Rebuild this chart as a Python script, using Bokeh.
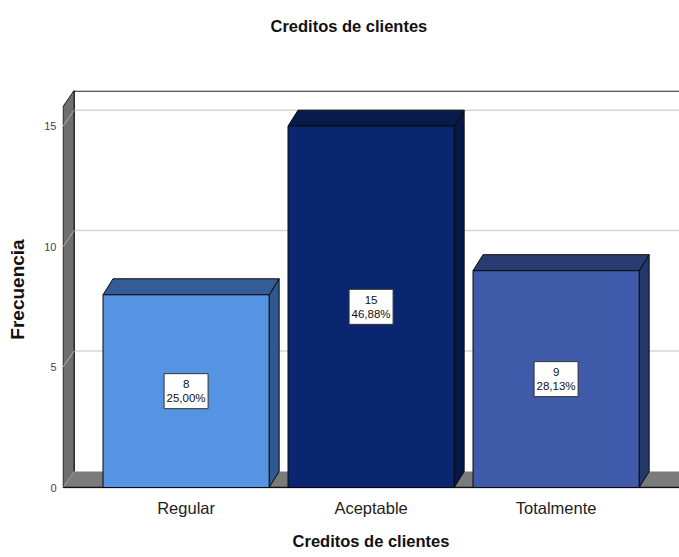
from bokeh.plotting import figure
from bokeh.models import FixedTicker, Range1d, Title
from bokeh.embed import file_html
from bokeh.resources import INLINE
from bokeh.core.properties import value

# ---- data ----
categories = ["Regular", "Aceptable", "Totalmente"]
counts = [8, 15, 9]
percents = ["25,00%", "46,88%", "28,13%"]
y_ticks = [0, 5, 10, 15]
chart_title = "Creditos de clientes"

# ---- styles ----
front_colors = ["#5594E3", "#0A2670", "#3F5BA9"]
top_colors = ["#345D97", "#061A4C", "#283C71"]
side_colors = ["#2F5890", "#051847", "#25386B"]
FONT = "Liberation Sans"

X0 = -0.665
XS = X0 - 0.003
X1 = XS + 617 / 185
Y0, Y1 = -0.04, 16.48
DXW, DXB, DY = 11 / 185, 10 / 185, 16 / 24.1
HW = 0.449

p = figure(width=679, height=552, x_range=Range1d(XS, X1),
           y_range=Range1d(Y0, Y1), output_backend="svg", toolbar_location=None,
           min_border_left=62, min_border_right=0, min_border_top=90,
           min_border_bottom=64, title=None)
p.background_fill_color = "white"
p.border_fill_color = "white"
p.outline_line_color = None
p.xgrid.visible = False
p.ygrid.visible = False

# back wall
p.quad(left=[X0 + DXW], right=[X1 + 0.01], bottom=[DY], top=[Y1],
       fill_color="white", line_color=None)
p.line([X0 + DXW, X1 + 0.01], [Y1 - 0.03, Y1 - 0.03], line_color="#222222", line_width=1.2)
p.line([X0 + DXW, X0 + DXW], [DY, Y1], line_color="#111111", line_width=1.5)

# back-wall gridlines
gl = y_ticks[1:]
p.segment(x0=[X0 + DXW] * len(gl), y0=[t + DY for t in gl], x1=[X1 + 0.01] * len(gl),
          y1=[t + DY for t in gl], line_color="#D6D6D6", line_width=1.5)

# left wall
p.patch([X0, X0 + DXW, X0 + DXW, X0], [0, DY, Y1, Y1 - DY],
        fill_color="#6F6F6F", line_color="#1a1a1a", line_width=1)
p.segment(x0=[X0] * len(gl), y0=gl, x1=[X0 + DXW] * len(gl), y1=[t + DY for t in gl],
          line_color="#B0B0B0", line_width=1)

# floor
p.patch([X0, X0 + DXW, X1 + 0.01, X1 + 0.01], [0, DY, DY, 0],
        fill_color="#7B7B7B", line_color=None)
p.line([X0, X0 + DXW], [0, DY], line_color="#A8A8A8", line_width=1)
p.line([X0, X1 + 0.01], [0, 0], line_color="#111111", line_width=1.5)

# bars
xs_pos = list(range(len(categories)))
top_xs, top_ys, side_xs, side_ys = [], [], [], []
for i, v in zip(xs_pos, counts):
    l, r = i - HW, i + HW
    top_xs.append([l, l + DXB, r + DXB, r])
    top_ys.append([v, v + DY, v + DY, v])
    side_xs.append([r, r + DXB, r + DXB, r])
    side_ys.append([0, DY, v + DY, v])

p.patches(side_xs, side_ys, fill_color=side_colors, line_color="#0a0a0a", line_width=1)
p.patches(top_xs, top_ys, fill_color=top_colors, line_color="#0a0a0a", line_width=1)
p.quad(left=[i - HW for i in xs_pos], right=[i + HW for i in xs_pos],
       bottom=[0] * len(counts), top=counts, fill_color=front_colors,
       line_color="#0a0a0a", line_width=1)

# value labels
mids = [v / 2 for v in counts]
p.rect(x=xs_pos, y=mids, width=44, height=35, width_units="screen", height_units="screen",
       fill_color="white", line_color="#333333", line_width=1)
p.text(x=xs_pos, y=mids, text=[f"{c}\n{pc}" for c, pc in zip(counts, percents)],
       text_align="center", text_baseline="middle", text_font_size="11.5px",
       text_font=value(FONT), text_color="#111111", text_line_height=1.2)

# axes
p.xaxis.ticker = FixedTicker(ticks=xs_pos)
p.xaxis.major_label_overrides = {i: c for i, c in zip(xs_pos, categories)}
p.xaxis.axis_label = chart_title
p.yaxis.ticker = FixedTicker(ticks=y_ticks)
p.yaxis.axis_label = "Frecuencia"
for ax in (p.xaxis[0], p.yaxis[0]):
    ax.axis_line_color = None
    ax.major_tick_line_color = None
    ax.minor_tick_line_color = None
    ax.major_tick_out = 0
    ax.major_tick_in = 0
    ax.axis_label_text_font = FONT
    ax.axis_label_text_font_style = "bold"
    ax.axis_label_text_color = "#111111"
    ax.major_label_text_font = FONT

p.xaxis.axis_label_text_font_size = "16.5px"
p.xaxis.major_label_text_font_size = "16.5px"
p.xaxis.major_label_text_color = "#222222"
p.xaxis.major_label_standoff = 10
p.xaxis.axis_label_standoff = 12
p.yaxis.axis_label_text_font_size = "19px"
p.yaxis.major_label_text_font_size = "11px"
p.yaxis.major_label_text_color = "#444444"
p.yaxis.major_label_standoff = 6
p.yaxis.axis_label_standoff = 13

# spacer between plot area and chart title, then the title itself (outermost)
spacer = Title(text=" ", text_font_size="10px", standoff=42)
p.add_layout(spacer, "above")
main_title = Title(text=chart_title, align="left", offset=208, vertical_align="middle",
                   standoff=0, text_font=FONT, text_font_size="16.5px",
                   text_font_style="bold", text_color="#111111")
p.add_layout(main_title, "above")

open("out.html", "w").write(file_html(p, INLINE))
